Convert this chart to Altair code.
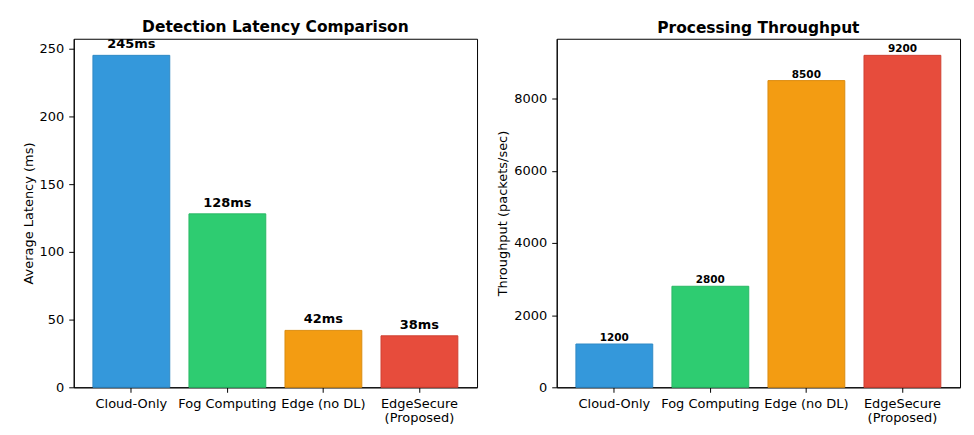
import altair as alt
import pandas as pd

categories = ["Cloud-Only", "Fog Computing", "Edge (no DL)", "EdgeSecure\n(Proposed)"]
latency = [245, 128, 42, 38]
latency_labels = ["245ms", "128ms", "42ms", "38ms"]
throughput = [1200, 2800, 8500, 9200]
throughput_labels = ["1200", "2800", "8500", "9200"]
colors = ["#3498db", "#2ecc71", "#f39c12", "#e74c3c"]
edge_colors = ["#2f89c5", "#29b865", "#db8c10", "#d03f31"]
latency_ticks = [0, 50, 100, 150, 200, 250]
throughput_ticks = [0, 2000, 4000, 6000, 8000]

df = pd.DataFrame({
    "method": categories,
    "latency": latency,
    "latency_label": latency_labels,
    "throughput": throughput,
    "throughput_label": throughput_labels,
})

FONT = "DejaVu Sans"

x_enc = alt.X(
    "method:N",
    sort=categories,
    scale=alt.Scale(paddingInner=0.2, paddingOuter=0.2),
    axis=alt.Axis(title=None, labelAngle=0, labelExpr="split(datum.label, '\\n')",
                  labelLineHeight=14, labelPadding=5),
)
color_enc = alt.Color("method:N", scale=alt.Scale(domain=categories, range=colors), legend=None)
stroke_enc = alt.Stroke("method:N", scale=alt.Scale(domain=categories, range=edge_colors), legend=None)


def panel(field, label_field, ymax, ticks, ytitle, title, label_size, label_dy):
    base = alt.Chart(df)
    bars = base.mark_bar(opacity=1, strokeWidth=1).encode(
        x=x_enc,
        y=alt.Y(f"{field}:Q", scale=alt.Scale(domain=[0, ymax], nice=False, zero=True),
                axis=alt.Axis(title=ytitle, values=ticks, format="d")),
        color=color_enc,
        stroke=stroke_enc,
    )
    text = base.mark_text(baseline="alphabetic", dy=label_dy, fontWeight="bold",
                          fontSize=label_size, color="black", font=FONT).encode(
        x=alt.X("method:N", sort=categories),
        y=alt.Y(f"{field}:Q"),
        text=alt.Text(f"{label_field}:N"),
    )
    return alt.layer(bars, text).properties(
        width=405, height=350,
        title=alt.TitleParams(title, fontSize=15.5, fontWeight="bold", font=FONT,
                              color="black", anchor="middle", baseline="bottom", offset=-12.5),
    )


left = panel("latency", "latency_label", 245 * 1.05, latency_ticks, "Average Latency (ms)",
             "Detection Latency Comparison", 13, -7)
right = panel("throughput", "throughput_label", 9200 * 1.05, throughput_ticks,
              "Throughput (packets/sec)", "Processing Throughput", 10.5, -3)

chart = alt.hconcat(left, right, spacing=18).properties(
    padding={"left": 13, "top": 11, "right": 5, "bottom": 5},
).configure(font=FONT).configure_view(
    stroke="black", strokeWidth=1
).configure_axis(
    grid=False, domainColor="black", tickColor="black", labelColor="black", titleColor="black",
    tickSize=5, labelPadding=5, labelFontSize=13, titleFontSize=13, titleFontWeight="normal",
    titlePadding=4, labelFont=FONT, titleFont=FONT, domainWidth=1, tickWidth=1,
)

chart.save("out.html", embed_options={"renderer": "svg", "actions": False})
